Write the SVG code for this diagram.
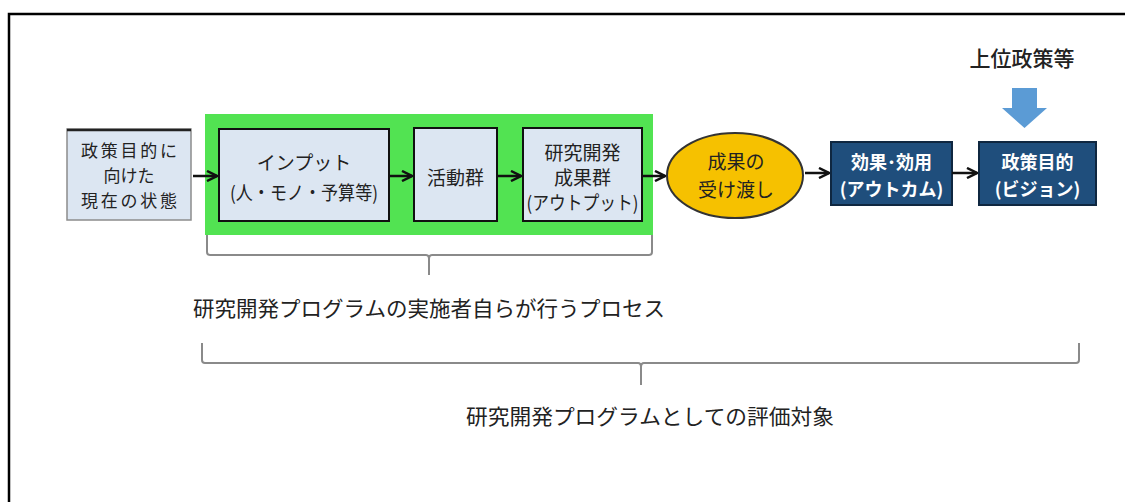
<svg xmlns="http://www.w3.org/2000/svg" width="1125" height="502" viewBox="0 0 1125 502">
<style>
text{font-family:"Noto Sans CJK JP","Noto Sans",sans-serif;text-anchor:middle;fill:#222}
.box{fill:#dce6f2;stroke:#111;stroke-width:2}
.dark{fill:#1f4e7c;stroke:#0f2740;stroke-width:2}
.w{fill:#fff;font-weight:bold;font-size:18px}
.t{font-size:19px}
.t1{font-size:17px}
.conn{stroke:#111;stroke-width:2.5;fill:none;marker-end:url(#ah)}
.brace{stroke:#8a8a8a;stroke-width:2;fill:none}
</style>
<defs>
<marker id="ah" viewBox="0 0 10 10" refX="9" refY="5" markerWidth="5" markerHeight="5" markerUnits="strokeWidth" orient="auto">
<path d="M1,1 L9,5 L1,9" fill="none" stroke="#111" stroke-width="2"/>
</marker>
</defs>
<rect x="0" y="0" width="1125" height="502" fill="#fff"/>
<path d="M9,520 L9,14 L1130,14" fill="none" stroke="#000" stroke-width="2.5"/>

<g id="green-area"><rect x="205" y="114" width="448" height="121" fill="#52e352"/></g>

<g id="n-current">
<rect x="67" y="129" width="124" height="91" fill="#dce6f2" stroke="#8c8c8c" stroke-width="1.5"/>
<line x1="67" y1="130" x2="191" y2="130" stroke="#222" stroke-width="2.5"/>
<text class="t1" x="129" y="157" textLength="96" lengthAdjust="spacing">政策目的に</text>
<text class="t1" x="129" y="182">向けた</text>
<text class="t1" x="129" y="207" textLength="96" lengthAdjust="spacing">現在の状態</text>
</g>
<g id="n-input">
<rect class="box" x="219" y="129" width="170" height="92"/>
<text class="t" x="304" y="170">インプット</text>
<text class="t" x="304" y="200" textLength="148" lengthAdjust="spacingAndGlyphs">(人・モノ・予算等)</text>
</g>
<g id="n-activity">
<rect class="box" x="414" y="128" width="83" height="93"/>
<text class="t" x="455.5" y="185">活動群</text>
</g>
<g id="n-output">
<rect class="box" x="523" y="128" width="119" height="93"/>
<text class="t" x="582.5" y="160">研究開発</text>
<text class="t" x="582.5" y="185">成果群</text>
<text class="t" x="582.5" y="210" textLength="112" lengthAdjust="spacingAndGlyphs">(アウトプット)</text>
</g>
<g id="n-handover">
<ellipse cx="735" cy="175.5" rx="68" ry="42.5" fill="#f6c100" stroke="#333" stroke-width="2"/>
<text class="t" x="736" y="169">成果の</text>
<text class="t" x="736" y="197">受け渡し</text>
</g>
<g id="n-outcome">
<rect class="dark" x="831" y="142" width="121" height="63"/>
<text class="w" x="891.5" y="169">効果･効用</text>
<text class="w" x="891.5" y="196">(アウトカム)</text>
</g>
<g id="n-vision">
<rect class="dark" x="979" y="142" width="117" height="63"/>
<text class="w" x="1037.5" y="169">政策目的</text>
<text class="w" x="1037.5" y="196">(ビジョン)</text>
</g>
<g id="n-upper">
<text x="1022" y="66" style="font-size:21px;font-weight:500">上位政策等</text>
<path d="M1012,88 L1037,88 L1037,108 L1047,108 L1024.5,128 L1002,108 L1012,108 Z" fill="#5b9bd5"/>
</g>

<g id="connectors">
<line class="conn" x1="193" y1="176" x2="217" y2="176"/>
<line class="conn" x1="389" y1="176" x2="412" y2="176"/>
<line class="conn" x1="497" y1="176" x2="521" y2="176"/>
<line class="conn" x1="642" y1="176" x2="665" y2="176"/>
<line class="conn" x1="805" y1="173" x2="829" y2="173"/>
<line class="conn" x1="952" y1="173" x2="977" y2="173"/>
</g>

<g id="brace-process">
<path class="brace" d="M207,235 L207,252 Q207,255 210,255 L426,255 Q429,255 429,259 L429,275 M429,259 Q429,255 432,255 L649,255 Q652,255 652,252 L652,235"/>
<text x="429" y="316" style="font-size:21px" textLength="472" lengthAdjust="spacingAndGlyphs">研究開発プログラムの実施者自らが行うプロセス</text>
</g>
<g id="brace-eval">
<path class="brace" d="M202,343 L202,360 Q202,363 205,363 L638,363 Q641,363 641,367 L641,385 M641,367 Q641,363 644,363 L1076,363 Q1079,363 1079,360 L1079,343"/>
<text x="650" y="424" style="font-size:21px" textLength="368" lengthAdjust="spacingAndGlyphs">研究開発プログラムとしての評価対象</text>
</g>
</svg>
